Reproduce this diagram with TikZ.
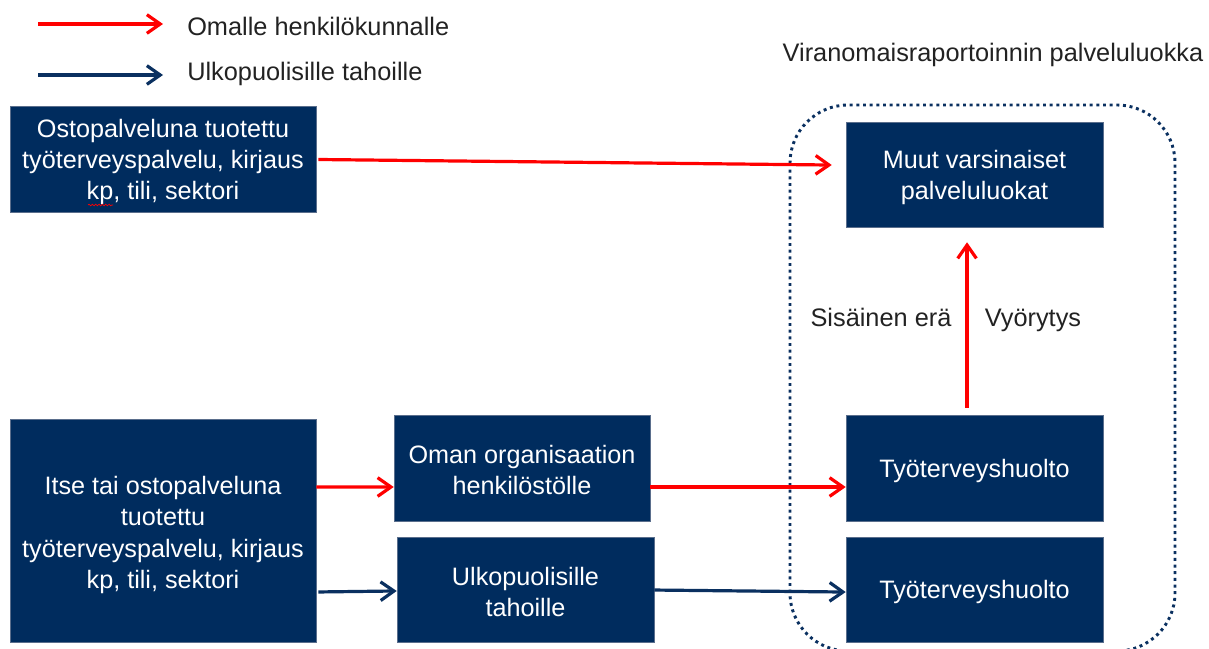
\documentclass[tikz,border=0pt]{standalone}
\usepackage{fontspec}
\setmainfont{Liberation Sans}
\usetikzlibrary{arrows.meta,decorations.pathmorphing}
\definecolor{navy}{RGB}{0,44,94}
\definecolor{navyedge}{RGB}{90,110,140}
\definecolor{arrowblue}{RGB}{10,48,96}
\definecolor{txtgray}{RGB}{34,34,34}
\definecolor{pred}{RGB}{255,0,0}
\tikzset{
  box/.style={fill=navy, draw=navyedge, line width=0.4pt, inner sep=0pt},
  boxtext/.style={text=white, align=center, inner sep=0pt, font=\fontsize{18.9}{23.4}\selectfont},
  lbl/.style={text=txtgray, inner sep=0pt, font=\fontsize{19}{23.4}\selectfont},
  redarrow/.style={draw=pred, line width=2.4pt, -{Straight Barb[length=10pt,width=14pt,line width=2.4pt]}},
  bluearrow/.style={draw=arrowblue, line width=2.4pt, -{Straight Barb[length=10pt,width=14pt,line width=2.4pt]}},
}
\begin{document}
\begin{tikzpicture}[x=0.75pt,y=-0.75pt]
\path[use as bounding box] (0,0) rectangle (1209,649);
% legend
\coordinate (l1a) at (38,24);
\coordinate (l1b) at (163,24);
\coordinate (l2a) at (38,75);
\coordinate (l2b) at (163,75);
\draw[redarrow] (l1a) -- (l1b);
\draw[bluearrow] (l2a) -- (l2b);
\node[lbl, anchor=base west] (leg1) at (187,36) {Omalle henkilökunnalle};
\node[lbl, anchor=base west] (leg2) at (187,81) {Ulkopuolisille tahoille};
% title
\node[lbl, anchor=base] (title) at (993,62) {Viranomaisraportoinnin palveluluokka};
% dotted rounded frame (clipped at bottom)
\begin{scope}
\clip (0,0) rectangle (1209,649);
\draw[arrowblue, line width=2.2pt, dash pattern=on 2.2pt off 2.8pt, rounded corners=43.5pt]
  (790,105) rectangle (1175,651);
\end{scope}
% boxes
\node[box, minimum width=229.5pt, minimum height=79.5pt] (A) at (163,159.5) {};
\node[box, minimum width=229.5pt, minimum height=167.25pt] (B) at (163,530.5) {};
\node[box, minimum width=192pt, minimum height=79.3pt] (C) at (522,468) {};
\node[box, minimum width=192.75pt, minimum height=78.75pt] (D) at (525.5,589.5) {};
\node[box, minimum width=192.75pt, minimum height=78.75pt] (E) at (974.5,174.5) {};
\node[box, minimum width=192.75pt, minimum height=79.5pt] (F) at (974.5,468) {};
\node[box, minimum width=192.75pt, minimum height=78.75pt] (G) at (974.5,589.5) {};
% box texts
\node[boxtext] (At) at ([yshift=-1.9pt]A.center) {Ostopalveluna tuotettu\\työterveyspalvelu, kirjaus\\kp, tili, sektori};
\node[boxtext] (Bt) at ([yshift=-3.4pt]B.center) {Itse tai ostopalveluna\\tuotettu\\työterveyspalvelu, kirjaus\\kp, tili, sektori};
\node[boxtext] (Ct) at ([yshift=-1.5pt]C.center) {Oman organisaation\\henkilöstölle};
\node[boxtext] (Dt) at ([yshift=-1.9pt]D.center) {Ulkopuolisille\\tahoille};
\node[boxtext] (Et) at ([yshift=-2.2pt]E.center) {Muut varsinaiset\\palveluluokat};
\node[boxtext] (Ft) at ([yshift=-2.2pt]F.center) {Työterveyshuolto};
\node[boxtext] (Gt) at ([yshift=-2.2pt]G.center) {Työterveyshuolto};
% wavy spell-check underline under "kp"
\draw[pred, line width=0.5pt, decorate, decoration={snake, amplitude=0.6pt, segment length=2.5pt}]
  (88,205) -- (113,205);
% connectors
\draw[redarrow] ([xshift=1.5pt]A.east) -- ([yshift=7.1pt,xshift=-10.5pt]E.west);
\draw[redarrow] ([yshift=32.6pt]B.east) -- ([yshift=-14.25pt]C.west);
\draw[redarrow] ([yshift=-14.25pt]C.east) -- ([yshift=-14.25pt]F.west);
\draw[bluearrow] ([yshift=-46.1pt,xshift=1.5pt]B.east) -- ([yshift=-1.1pt]D.west);
\draw[bluearrow] ([yshift=-0.4pt]D.east) -- ([yshift=-1.9pt]G.west);
\draw[redarrow] ([xshift=-5.6pt,yshift=5.25pt]F.north) -- ([xshift=-5.6pt,yshift=-11.25pt]E.south);
% labels on the vertical arrow
\node[lbl, anchor=base] (s1) at (881,326) {Sisäinen erä};
\node[lbl, anchor=base] (s2) at (1033,326) {Vyörytys};
\end{tikzpicture}
\end{document}
